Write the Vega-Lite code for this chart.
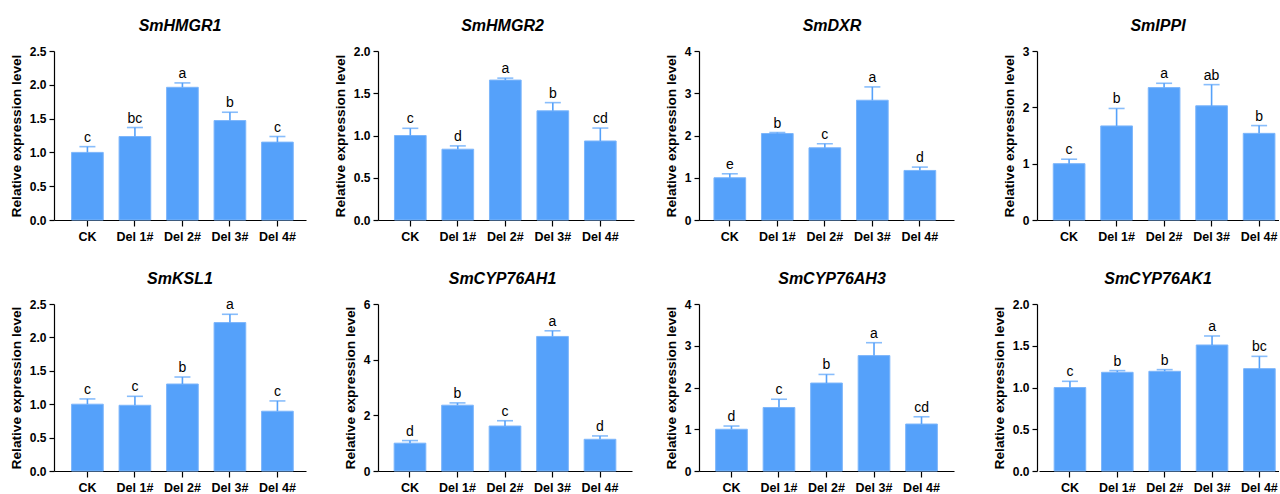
{
  "$schema": "https://vega.github.io/schema/vega-lite/v6.json",
  "padding": {"left": 9, "top": 18, "right": 0, "bottom": 0},
  "background": "white",
  "data": {"values": [
    {"gene": "SmHMGR1", "group": "CK", "mean": 1.0, "upper": 1.085, "letter": "c"},
    {"gene": "SmHMGR1", "group": "Del 1#", "mean": 1.235, "upper": 1.368, "letter": "bc"},
    {"gene": "SmHMGR1", "group": "Del 2#", "mean": 1.963, "upper": 2.028, "letter": "a"},
    {"gene": "SmHMGR1", "group": "Del 3#", "mean": 1.471, "upper": 1.594, "letter": "b"},
    {"gene": "SmHMGR1", "group": "Del 4#", "mean": 1.152, "upper": 1.235, "letter": "c"},
    {"gene": "SmHMGR2", "group": "CK", "mean": 1.0, "upper": 1.085, "letter": "c"},
    {"gene": "SmHMGR2", "group": "Del 1#", "mean": 0.838, "upper": 0.877, "letter": "d"},
    {"gene": "SmHMGR2", "group": "Del 2#", "mean": 1.656, "upper": 1.679, "letter": "a"},
    {"gene": "SmHMGR2", "group": "Del 3#", "mean": 1.292, "upper": 1.389, "letter": "b"},
    {"gene": "SmHMGR2", "group": "Del 4#", "mean": 0.935, "upper": 1.088, "letter": "cd"},
    {"gene": "SmDXR", "group": "CK", "mean": 1.0, "upper": 1.094, "letter": "e"},
    {"gene": "SmDXR", "group": "Del 1#", "mean": 2.047, "upper": 2.07, "letter": "b"},
    {"gene": "SmDXR", "group": "Del 2#", "mean": 1.709, "upper": 1.803, "letter": "c"},
    {"gene": "SmDXR", "group": "Del 3#", "mean": 2.835, "upper": 3.15, "letter": "a"},
    {"gene": "SmDXR", "group": "Del 4#", "mean": 1.173, "upper": 1.252, "letter": "d"},
    {"gene": "SmIPPI", "group": "CK", "mean": 1.0, "upper": 1.079, "letter": "c"},
    {"gene": "SmIPPI", "group": "Del 1#", "mean": 1.67, "upper": 1.98, "letter": "b"},
    {"gene": "SmIPPI", "group": "Del 2#", "mean": 2.35, "upper": 2.427, "letter": "a"},
    {"gene": "SmIPPI", "group": "Del 3#", "mean": 2.027, "upper": 2.403, "letter": "ab"},
    {"gene": "SmIPPI", "group": "Del 4#", "mean": 1.538, "upper": 1.676, "letter": "b"},
    {"gene": "SmKSL1", "group": "CK", "mean": 1.0, "upper": 1.079, "letter": "c"},
    {"gene": "SmKSL1", "group": "Del 1#", "mean": 0.984, "upper": 1.118, "letter": "c"},
    {"gene": "SmKSL1", "group": "Del 2#", "mean": 1.302, "upper": 1.407, "letter": "b"},
    {"gene": "SmKSL1", "group": "Del 3#", "mean": 2.222, "upper": 2.346, "letter": "a"},
    {"gene": "SmKSL1", "group": "Del 4#", "mean": 0.895, "upper": 1.049, "letter": "c"},
    {"gene": "SmCYP76AH1", "group": "CK", "mean": 1.0, "upper": 1.093, "letter": "d"},
    {"gene": "SmCYP76AH1", "group": "Del 1#", "mean": 2.364, "upper": 2.447, "letter": "b"},
    {"gene": "SmCYP76AH1", "group": "Del 2#", "mean": 1.616, "upper": 1.806, "letter": "c"},
    {"gene": "SmCYP76AH1", "group": "Del 3#", "mean": 4.835, "upper": 5.037, "letter": "a"},
    {"gene": "SmCYP76AH1", "group": "Del 4#", "mean": 1.14, "upper": 1.26, "letter": "d"},
    {"gene": "SmCYP76AH3", "group": "CK", "mean": 1.0, "upper": 1.077, "letter": "d"},
    {"gene": "SmCYP76AH3", "group": "Del 1#", "mean": 1.521, "upper": 1.719, "letter": "c"},
    {"gene": "SmCYP76AH3", "group": "Del 2#", "mean": 2.107, "upper": 2.313, "letter": "b"},
    {"gene": "SmCYP76AH3", "group": "Del 3#", "mean": 2.764, "upper": 3.073, "letter": "a"},
    {"gene": "SmCYP76AH3", "group": "Del 4#", "mean": 1.125, "upper": 1.299, "letter": "cd"},
    {"gene": "SmCYP76AK1", "group": "CK", "mean": 1.0, "upper": 1.074, "letter": "c"},
    {"gene": "SmCYP76AK1", "group": "Del 1#", "mean": 1.182, "upper": 1.202, "letter": "b"},
    {"gene": "SmCYP76AK1", "group": "Del 2#", "mean": 1.194, "upper": 1.214, "letter": "b"},
    {"gene": "SmCYP76AK1", "group": "Del 3#", "mean": 1.509, "upper": 1.617, "letter": "a"},
    {"gene": "SmCYP76AK1", "group": "Del 4#", "mean": 1.226, "upper": 1.373, "letter": "bc"}
  ]},
  "config": {
    "view": {"stroke": null},
    "font": "Liberation Sans",
    "axis": {"domainColor": "#000", "tickColor": "#000", "domainWidth": 1.2, "tickWidth": 1.2, "labelFont": "Liberation Sans", "titleFont": "Liberation Sans", "labelFontWeight": "bold", "labelColor": "#000", "titleFontWeight": "bold", "titleColor": "#000", "grid": false, "labelOverlap": false},
    "axisX": {"labelFontSize": 12.5, "labelPadding": 4, "tickSize": 6, "labelAngle": 0, "title": null},
    "axisY": {"labelFontSize": 12, "titleFontSize": 13.7, "titlePadding": 6, "labelPadding": 3, "tickSize": 5, "tickCount": 12},
    "title": {"font": "Liberation Sans", "fontSize": 16, "fontStyle": "italic", "fontWeight": "bold", "color": "#000", "frame": "group", "anchor": "middle", "baseline": "alphabetic", "offset": 11},
    "bar": {"color": "#55a1fa", "stroke": "#7db6fb", "strokeWidth": 1},
    "rule": {"color": "#55a1fa", "strokeWidth": 1.6},
    "tick": {"color": "#55a1fa", "thickness": 1.6},
    "text": {"fontSize": 14, "color": "#000", "baseline": "alphabetic", "dy": -5, "font": "Liberation Sans"}
  },
  "columns": 4,
  "spacing": {"row": 84, "column": 72},
  "bounds": "flush",
  "concat": [
      {"title": "SmHMGR1", "width": 252, "height": 169,
       "transform": [{"filter": "datum.gene === 'SmHMGR1'"}],
       "encoding": {"x": {"field": "group", "type": "nominal", "sort": null, "title": null, "scale": {"range": [0, 252], "paddingInner": 0.333, "paddingOuter": 0.319, "align": 0.58}}},
       "layer": [
         {"mark": "bar", "encoding": {"y": {"field": "mean", "type": "quantitative", "title": "Relative expression level", "scale": {"domain": [0, 2.5], "nice": false}, "axis": {"values": [0, 0.5, 1, 1.5, 2, 2.5], "format": ".1f"}}}},
         {"mark": "rule", "encoding": {"y": {"field": "mean", "type": "quantitative", "title": "Relative expression level"}, "y2": {"field": "upper"}}},
         {"mark": {"type": "tick", "orient": "horizontal", "size": 16}, "encoding": {"y": {"field": "upper", "type": "quantitative", "title": "Relative expression level"}}},
         {"mark": "text", "encoding": {"y": {"field": "upper", "type": "quantitative", "title": "Relative expression level"}, "text": {"field": "letter"}}}
       ]},
      {"title": "SmHMGR2", "width": 249, "height": 169,
       "transform": [{"filter": "datum.gene === 'SmHMGR2'"}],
       "encoding": {"x": {"field": "group", "type": "nominal", "sort": null, "title": null, "scale": {"range": [0, 256], "paddingInner": 0.333, "paddingOuter": 0.361, "align": 0.48}}},
       "layer": [
         {"mark": "bar", "encoding": {"y": {"field": "mean", "type": "quantitative", "title": "Relative expression level", "scale": {"domain": [0, 2], "nice": false}, "axis": {"values": [0, 0.5, 1, 1.5, 2], "format": ".1f"}}}},
         {"mark": "rule", "encoding": {"y": {"field": "mean", "type": "quantitative", "title": "Relative expression level"}, "y2": {"field": "upper"}}},
         {"mark": {"type": "tick", "orient": "horizontal", "size": 16}, "encoding": {"y": {"field": "upper", "type": "quantitative", "title": "Relative expression level"}}},
         {"mark": "text", "encoding": {"y": {"field": "upper", "type": "quantitative", "title": "Relative expression level"}, "text": {"field": "letter"}}}
       ]},
      {"title": "SmDXR", "width": 266, "height": 169,
       "transform": [{"filter": "datum.gene === 'SmDXR'"}],
       "encoding": {"x": {"field": "group", "type": "nominal", "sort": null, "title": null, "scale": {"range": [0, 255], "paddingInner": 0.333, "paddingOuter": 0.35, "align": 0.45}}},
       "layer": [
         {"mark": "bar", "encoding": {"y": {"field": "mean", "type": "quantitative", "title": "Relative expression level", "scale": {"domain": [0, 4], "nice": false}, "axis": {"values": [0, 1, 2, 3, 4], "format": "d"}}}},
         {"mark": "rule", "encoding": {"y": {"field": "mean", "type": "quantitative", "title": "Relative expression level"}, "y2": {"field": "upper"}}},
         {"mark": {"type": "tick", "orient": "horizontal", "size": 16}, "encoding": {"y": {"field": "upper", "type": "quantitative", "title": "Relative expression level"}}},
         {"mark": "text", "encoding": {"y": {"field": "upper", "type": "quantitative", "title": "Relative expression level"}, "text": {"field": "letter"}}}
       ]},
      {"title": "SmIPPI", "width": 242, "height": 169,
       "transform": [{"filter": "datum.gene === 'SmIPPI'"}],
       "encoding": {"x": {"field": "group", "type": "nominal", "sort": null, "title": null, "scale": {"range": [0, 242], "paddingInner": 0.333, "paddingOuter": 0.214, "align": 0.8}}},
       "layer": [
         {"mark": "bar", "encoding": {"y": {"field": "mean", "type": "quantitative", "title": "Relative expression level", "scale": {"domain": [0, 3], "nice": false}, "axis": {"values": [0, 1, 2, 3], "format": "d"}}}},
         {"mark": "rule", "encoding": {"y": {"field": "mean", "type": "quantitative", "title": "Relative expression level"}, "y2": {"field": "upper"}}},
         {"mark": {"type": "tick", "orient": "horizontal", "size": 16}, "encoding": {"y": {"field": "upper", "type": "quantitative", "title": "Relative expression level"}}},
         {"mark": "text", "encoding": {"y": {"field": "upper", "type": "quantitative", "title": "Relative expression level"}, "text": {"field": "letter"}}}
       ]},
      {"title": "SmKSL1", "width": 252, "height": 167,
       "transform": [{"filter": "datum.gene === 'SmKSL1'"}],
       "encoding": {"x": {"field": "group", "type": "nominal", "sort": null, "title": null, "scale": {"range": [0, 252], "paddingInner": 0.333, "paddingOuter": 0.319, "align": 0.58}}},
       "layer": [
         {"mark": "bar", "encoding": {"y": {"field": "mean", "type": "quantitative", "title": "Relative expression level", "scale": {"domain": [0, 2.5], "nice": false}, "axis": {"values": [0, 0.5, 1, 1.5, 2, 2.5], "format": ".1f"}}}},
         {"mark": "rule", "encoding": {"y": {"field": "mean", "type": "quantitative", "title": "Relative expression level"}, "y2": {"field": "upper"}}},
         {"mark": {"type": "tick", "orient": "horizontal", "size": 16}, "encoding": {"y": {"field": "upper", "type": "quantitative", "title": "Relative expression level"}}},
         {"mark": "text", "encoding": {"y": {"field": "upper", "type": "quantitative", "title": "Relative expression level"}, "text": {"field": "letter"}}}
       ]},
      {"title": "SmCYP76AH1", "width": 249, "height": 167,
       "transform": [{"filter": "datum.gene === 'SmCYP76AH1'"}],
       "encoding": {"x": {"field": "group", "type": "nominal", "sort": null, "title": null, "scale": {"range": [0, 254], "paddingInner": 0.333, "paddingOuter": 0.34, "align": 0.5}}},
       "layer": [
         {"mark": "bar", "encoding": {"y": {"field": "mean", "type": "quantitative", "title": "Relative expression level", "scale": {"domain": [0, 6], "nice": false}, "axis": {"values": [0, 2, 4, 6], "format": "d"}}}},
         {"mark": "rule", "encoding": {"y": {"field": "mean", "type": "quantitative", "title": "Relative expression level"}, "y2": {"field": "upper"}}},
         {"mark": {"type": "tick", "orient": "horizontal", "size": 16}, "encoding": {"y": {"field": "upper", "type": "quantitative", "title": "Relative expression level"}}},
         {"mark": "text", "encoding": {"y": {"field": "upper", "type": "quantitative", "title": "Relative expression level"}, "text": {"field": "letter"}}}
       ]},
      {"title": "SmCYP76AH3", "width": 266, "height": 167,
       "transform": [{"filter": "datum.gene === 'SmCYP76AH3'"}],
       "encoding": {"x": {"field": "group", "type": "nominal", "sort": null, "title": null, "scale": {"range": [0, 255], "paddingInner": 0.333, "paddingOuter": 0.35, "align": 0.5}}},
       "layer": [
         {"mark": "bar", "encoding": {"y": {"field": "mean", "type": "quantitative", "title": "Relative expression level", "scale": {"domain": [0, 4], "nice": false}, "axis": {"values": [0, 1, 2, 3, 4], "format": "d"}}}},
         {"mark": "rule", "encoding": {"y": {"field": "mean", "type": "quantitative", "title": "Relative expression level"}, "y2": {"field": "upper"}}},
         {"mark": {"type": "tick", "orient": "horizontal", "size": 16}, "encoding": {"y": {"field": "upper", "type": "quantitative", "title": "Relative expression level"}}},
         {"mark": "text", "encoding": {"y": {"field": "upper", "type": "quantitative", "title": "Relative expression level"}, "text": {"field": "letter"}}}
       ]},
      {"title": "SmCYP76AK1", "width": 242, "height": 167,
       "transform": [{"filter": "datum.gene === 'SmCYP76AK1'"}],
       "encoding": {"x": {"field": "group", "type": "nominal", "sort": null, "title": null, "scale": {"range": [2, 242], "paddingInner": 0.333, "paddingOuter": 0.2, "align": 0.8}}},
       "layer": [
         {"mark": "bar", "encoding": {"y": {"field": "mean", "type": "quantitative", "title": "Relative expression level", "scale": {"domain": [0, 2], "nice": false}, "axis": {"values": [0, 0.5, 1, 1.5, 2], "format": ".1f"}}}},
         {"mark": "rule", "encoding": {"y": {"field": "mean", "type": "quantitative", "title": "Relative expression level"}, "y2": {"field": "upper"}}},
         {"mark": {"type": "tick", "orient": "horizontal", "size": 16}, "encoding": {"y": {"field": "upper", "type": "quantitative", "title": "Relative expression level"}}},
         {"mark": "text", "encoding": {"y": {"field": "upper", "type": "quantitative", "title": "Relative expression level"}, "text": {"field": "letter"}}}
       ]}
  ]
}
